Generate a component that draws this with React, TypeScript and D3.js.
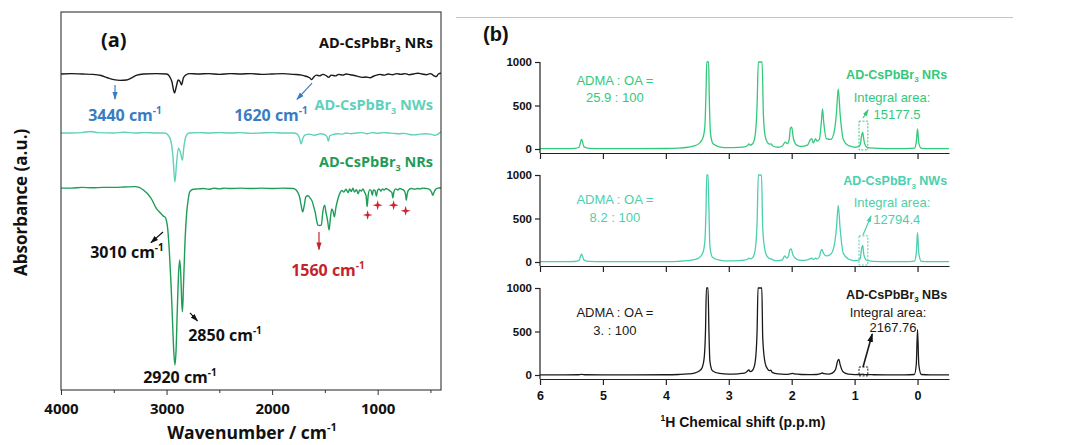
import React, { useEffect, useRef } from 'react'
import * as d3 from 'd3'

type Pt = [number, number]

// ---------- panel (a): FTIR ----------
const irTicksMajor = [4000, 3000, 2000, 1000]
const irTicksMinor = [3500, 2500, 1500, 500]
const irSamples = ['NRs', 'NWs', 'NRs']
const irOffsets = [8.36, 6.8, 5.34]

const irNRsTop: Pt[] = [
  [4000, 0], [3900, 0.01], [3800, 0], [3700, -0.01], [3620, -0.04], [3560, -0.1], [3500, -0.15], [3440, -0.17],
  [3380, -0.16], [3330, -0.1], [3280, -0.03], [3220, 0], [3100, 0.01], [3000, 0], [2975, -0.05], [2950, -0.2],
  [2925, -0.5], [2905, -0.3], [2890, -0.16], [2872, -0.2], [2858, -0.29], [2840, -0.1], [2815, -0.02], [2780, 0.01],
  [2700, 0], [2600, 0.01], [2500, -0.01], [2400, 0.01], [2300, 0], [2200, 0.01], [2100, -0.01], [2000, 0],
  [1900, 0.01], [1800, -0.01], [1720, -0.03], [1680, -0.06], [1645, -0.1], [1625, -0.15], [1605, -0.08],
  [1580, -0.03], [1550, -0.05], [1520, -0.01], [1490, -0.04], [1465, -0.09], [1440, -0.03], [1400, -0.05],
  [1370, -0.01], [1330, -0.03], [1300, 0], [1260, -0.02], [1220, -0.04], [1180, -0.07], [1150, -0.09],
  [1110, -0.08], [1070, -0.1], [1040, -0.06], [1010, -0.03], [980, -0.01], [940, -0.03], [900, 0], [860, -0.02],
  [820, 0.01], [780, -0.01], [740, 0.01], [700, -0.02], [660, 0], [620, 0.02], [580, 0], [540, -0.02],
  [500, 0.01], [470, -0.04], [445, -0.07], [425, 0], [400, 0.02],
]

const irNWs: Pt[] = [
  [4000, 0], [3900, 0], [3800, 0.01], [3720, 0.04], [3650, 0.01], [3500, 0], [3400, 0.02], [3300, 0], [3200, 0.01],
  [3100, 0], [3020, 0], [2990, -0.04], [2960, -0.2], [2940, -0.6], [2921, -1.3], [2905, -0.8], [2888, -0.4],
  [2870, -0.5], [2850, -0.72], [2835, -0.35], [2815, -0.08], [2790, 0], [2700, 0.01], [2600, 0], [2500, 0.01],
  [2400, 0], [2300, 0.01], [2200, -0.01], [2100, 0], [2000, 0.01], [1900, 0], [1800, 0], [1760, -0.03],
  [1740, -0.14], [1725, -0.29], [1710, -0.15], [1690, -0.06], [1650, -0.03], [1600, -0.06], [1570, -0.04],
  [1540, -0.02], [1500, -0.05], [1480, -0.1], [1467, -0.22], [1455, -0.08], [1420, -0.04], [1380, -0.02],
  [1340, -0.03], [1300, 0], [1250, -0.02], [1200, 0], [1150, 0.01], [1100, -0.02], [1050, 0.01], [1000, -0.01],
  [950, 0.01], [900, 0], [850, -0.01], [800, -0.02], [750, -0.01], [700, -0.04], [650, -0.05], [600, -0.03],
  [550, -0.02], [500, -0.03], [460, -0.06], [440, -0.05], [420, -0.01], [400, 0.03],
]

const irNRs: Pt[] = [
  [4000, 0], [3900, 0], [3800, 0.02], [3700, 0.01], [3600, 0.02], [3500, 0.02], [3400, 0.03], [3300, 0.04],
  [3260, 0.02], [3220, -0.05], [3180, -0.15], [3140, -0.3], [3100, -0.52], [3060, -0.65], [3030, -0.74],
  [3016, -0.76], [3005, -0.82], [2990, -1.05], [2975, -1.6], [2960, -2.4], [2945, -3.4], [2932, -4.3],
  [2921, -4.68], [2910, -4.3], [2898, -3.2], [2885, -2.2], [2875, -1.9], [2865, -2.3], [2855, -3.1],
  [2849, -3.27], [2840, -2.6], [2825, -1.4], [2810, -0.68], [2795, -0.3], [2780, -0.1], [2750, -0.03],
  [2700, -0.02], [2650, -0.01], [2600, -0.03], [2550, 0], [2500, -0.02], [2450, 0], [2400, -0.01], [2300, 0],
  [2200, -0.01], [2100, 0], [2000, -0.01], [1900, 0], [1800, -0.01], [1775, -0.04], [1755, -0.12],
  [1740, -0.23], [1725, -0.45], [1710, -0.63], [1695, -0.45], [1680, -0.23], [1660, -0.2], [1640, -0.26],
  [1620, -0.35], [1605, -0.5], [1590, -0.66], [1575, -0.9], [1566, -0.98], [1550, -0.99], [1534, -0.98],
  [1518, -0.6], [1502, -0.45], [1490, -0.64], [1475, -0.85], [1460, -1.11], [1448, -0.8], [1435, -0.55],
  [1422, -0.62], [1410, -0.76], [1395, -0.5], [1385, -0.38], [1370, -0.22], [1355, -0.12], [1340, -0.06],
  [1320, -0.1], [1300, -0.03], [1280, -0.12], [1265, -0.02], [1250, -0.09], [1235, 0], [1220, -0.1],
  [1200, -0.04], [1185, -0.15], [1170, -0.05], [1155, -0.08], [1140, -0.02], [1125, -0.1], [1110, -0.2],
  [1100, -0.49], [1090, -0.2], [1075, -0.04], [1060, -0.08], [1051, -0.19], [1040, -0.05], [1025, -0.06],
  [1013, -0.21], [1000, -0.05], [985, -0.02], [970, -0.08], [955, -0.02], [940, -0.05], [920, -0.01],
  [900, -0.04], [880, -0.08], [865, -0.12], [856, -0.26], [845, -0.08], [830, -0.02], [810, -0.05],
  [790, -0.01], [770, -0.03], [750, -0.06], [735, -0.18], [729, -0.32], [720, -0.15], [705, -0.04],
  [680, -0.01], [650, -0.03], [620, -0.01], [600, -0.02], [570, 0], [540, -0.01], [510, -0.03], [490, -0.1],
  [478, -0.19], [465, -0.1], [450, -0.03], [430, 0], [400, 0.01],
]

// red stars under the green NRs trace (relative to its baseline)
const irStars: Pt[] = [[1095, -0.71], [1000, -0.45], [849, -0.45], [735, -0.6]]

// ---------- panel (b): 1H NMR ----------
const nmrTicks = [6, 5, 4, 3, 2, 1, 0]
const nmrYTicks = [0, 500, 1000]
const nmrSamples = ['NRs', 'NWs', 'NBs']
const nmrRatios = ['25.9 : 100', '8.2 : 100', '3. : 100']
const nmrAreas = ['15177.5', '12794.4', '2167.76']

const nmrNRs: Pt[] = [
  [6.0, 5], [5.6, 5], [5.45, 7], [5.38, 20], [5.34, 110], [5.3, 25], [5.22, 8], [5.0, 5], [4.5, 5], [4.0, 6],
  [3.8, 10], [3.65, 20], [3.55, 35], [3.47, 65], [3.41, 130], [3.38, 260], [3.36, 700], [3.35, 1000],
  [3.32, 1000], [3.31, 600], [3.29, 180], [3.25, 60], [3.15, 25], [3.0, 15], [2.85, 18], [2.75, 25], [2.7, 40],
  [2.68, 60], [2.66, 45], [2.62, 60], [2.58, 160], [2.55, 500], [2.53, 1000], [2.47, 1000], [2.45, 400],
  [2.42, 140], [2.38, 70], [2.35, 55], [2.33, 60], [2.3, 35], [2.22, 20], [2.15, 35], [2.1, 80], [2.07, 60],
  [2.04, 110], [2.02, 240], [2.0, 250], [1.97, 110], [1.92, 45], [1.85, 30], [1.75, 45], [1.7, 110],
  [1.68, 120], [1.66, 70], [1.64, 90], [1.62, 120], [1.6, 90], [1.56, 110], [1.53, 300], [1.51, 460],
  [1.49, 300], [1.45, 120], [1.38, 110], [1.33, 180], [1.29, 400], [1.26, 690], [1.23, 400], [1.18, 110],
  [1.1, 40], [1.05, 30], [1.0, 20], [0.95, 25], [0.91, 50], [0.89, 150], [0.87, 190], [0.86, 140], [0.84, 60],
  [0.8, 20], [0.7, 10], [0.5, 5], [0.2, 5], [0.05, 10], [0.02, 80], [0.0, 230], [-0.02, 70], [-0.06, 8],
  [-0.2, 5], [-0.5, 5],
]

const nmrNWs: Pt[] = [
  [6.0, 4], [5.6, 4], [5.45, 6], [5.38, 18], [5.34, 90], [5.3, 22], [5.22, 7], [5.0, 4], [4.5, 4], [4.0, 5],
  [3.8, 8], [3.65, 15], [3.55, 28], [3.47, 50], [3.41, 110], [3.38, 240], [3.36, 650], [3.35, 1000],
  [3.33, 1000], [3.315, 600], [3.3, 180], [3.26, 55], [3.15, 22], [3.0, 12], [2.85, 15], [2.75, 22], [2.7, 32],
  [2.68, 45], [2.66, 35], [2.62, 50], [2.58, 140], [2.55, 450], [2.53, 1000], [2.48, 1000], [2.46, 380],
  [2.42, 120], [2.38, 55], [2.35, 38], [2.33, 35], [2.3, 25], [2.22, 15], [2.15, 25], [2.11, 70], [2.08, 45],
  [2.05, 70], [2.03, 140], [2.01, 150], [1.98, 80], [1.92, 30], [1.85, 18], [1.75, 25], [1.7, 40], [1.68, 45],
  [1.66, 30], [1.64, 35], [1.62, 45], [1.6, 35], [1.56, 60], [1.54, 120], [1.52, 145], [1.5, 110], [1.45, 70],
  [1.38, 90], [1.33, 170], [1.29, 380], [1.26, 650], [1.23, 380], [1.18, 100], [1.1, 35], [1.05, 22],
  [1.0, 15], [0.95, 18], [0.91, 40], [0.89, 150], [0.87, 190], [0.86, 120], [0.84, 50], [0.8, 15], [0.7, 8],
  [0.5, 4], [0.2, 4], [0.05, 10], [0.02, 100], [0.0, 340], [-0.02, 100], [-0.06, 8], [-0.2, 4], [-0.5, 4],
]

const nmrNBs: Pt[] = [
  [6.0, 2], [5.6, 2], [5.4, 3], [5.34, 8], [5.28, 3], [5.0, 2], [4.5, 2], [4.0, 3], [3.8, 6], [3.65, 12],
  [3.55, 22], [3.47, 45], [3.42, 90], [3.39, 200], [3.37, 500], [3.355, 1000], [3.33, 1000], [3.315, 500],
  [3.3, 160], [3.26, 50], [3.15, 18], [3.0, 10], [2.85, 14], [2.75, 22], [2.71, 40], [2.68, 60], [2.66, 38],
  [2.62, 55], [2.58, 150], [2.55, 500], [2.535, 1000], [2.475, 1000], [2.46, 420], [2.42, 130], [2.38, 65],
  [2.35, 50], [2.33, 55], [2.31, 30], [2.22, 12], [2.1, 8], [2.02, 14], [1.99, 18], [1.96, 12], [1.85, 6],
  [1.7, 5], [1.6, 6], [1.53, 18], [1.51, 25], [1.49, 15], [1.42, 10], [1.35, 25], [1.3, 70], [1.27, 160],
  [1.25, 180], [1.23, 120], [1.18, 35], [1.1, 10], [1.0, 5], [0.9, 6], [0.87, 10], [0.84, 5], [0.7, 3],
  [0.5, 2], [0.2, 2], [0.05, 6], [0.02, 120], [0.0, 520], [-0.02, 120], [-0.06, 6], [-0.2, 2], [-0.5, 2],
]

const fontA = '"Open Sans", "DejaVu Sans", sans-serif'
const fontB = '"Liberation Sans", Arial, sans-serif'

const App = () => {
  const ref = useRef<SVGSVGElement>(null)

  useEffect(() => {
    const svg = d3.select(ref.current)
    svg.selectAll('*').remove()

    const defs = svg.append('defs')
    const arrow = (id: string, color: string, s: number) => {
      defs.append('marker')
        .attr('id', id)
        .attr('markerUnits', 'userSpaceOnUse')
        .attr('markerWidth', s * 2).attr('markerHeight', s * 2)
        .attr('viewBox', `0 0 ${s * 2} ${s * 2}`)
        .attr('refX', s * 2 - 1).attr('refY', s)
        .attr('orient', 'auto')
        .append('path')
        .attr('d', `M0,${s * 0.35} L${s * 2},${s} L0,${s * 1.65} Z`)
        .attr('fill', color)
    }
    arrow('ar-blue', '#3a7cc2', 4)
    arrow('ar-black', '#111', 4)
    arrow('ar-red', '#c3242b', 4)
    arrow('ar-green', '#2fc777', 3.5)
    arrow('ar-teal', '#4ccfae', 3.5)
    arrow('ar-black2', '#111', 4.5)

    // ================= panel (a) =================
    const a = { left: 61, right: 441, top: 12, bottom: 390 }
    const x = d3.scaleLinear().domain([4000, 400]).range([a.left, a.right])
    const y = d3.scaleLinear().domain([0, 10]).range([a.bottom, a.top])
    const ga = svg.append('g')

    const irColors = ['#1a1a1a', '#5fd1b9', '#1f9c57']
    const irLabelColors = ['#111', '#5fd1b9', '#1f9c57']
    const irSeries = [irNRsTop, irNWs, irNRs]

    irSeries.forEach((s, i) => {
      ga.append('path')
        .datum(s)
        .attr('fill', 'none')
        .attr('stroke', irColors[i])
        .attr('stroke-width', 1.4)
        .attr('stroke-linejoin', 'round')
        .attr('d', d3.line<Pt>()
          .x(d => x(d[0]))
          .y(d => y(d[1] + irOffsets[i]))
          .curve(d3.curveMonotoneX))
    })

    // frame
    ga.append('rect')
      .attr('x', a.left).attr('y', a.top)
      .attr('width', a.right - a.left).attr('height', a.bottom - a.top)
      .attr('fill', 'none').attr('stroke', '#333').attr('stroke-width', 1.1)

    const axA = ga.append('g')
      .attr('transform', `translate(0,${a.bottom})`)
      .call(d3.axisBottom(x).tickValues(irTicksMajor).tickSize(5).tickSizeOuter(0).tickFormat(d3.format('d')))
    axA.select('.domain').remove()
    axA.selectAll('text')
      .attr('font-family', fontA).attr('font-weight', 700).attr('font-size', 15).attr('fill', '#111')
      .attr('dy', '1.05em')
    axA.selectAll('line').attr('stroke', '#333')
    ga.append('g')
      .attr('transform', `translate(0,${a.bottom})`)
      .call(d3.axisBottom(x).tickValues([4000, ...irTicksMinor]).tickSize(3).tickFormat(() => ''))
      .call(g => g.select('.domain').remove())
      .selectAll('line').attr('stroke', '#333')

    ga.append('text')
      .attr('x', (a.left + a.right) / 2 + 1).attr('y', 439)
      .attr('text-anchor', 'middle')
      .attr('font-family', fontA).attr('font-weight', 700).attr('font-size', 17.5).attr('fill', '#111')
      .call(t => {
        t.append('tspan').text('Wavenumber / cm')
        t.append('tspan').attr('dy', -8).attr('font-size', 11).text('-1')
      })

    ga.append('text')
      .attr('transform', 'translate(27,276) rotate(-90)')
      .attr('font-family', fontA).attr('font-weight', 700).attr('font-size', 17).attr('fill', '#111')
      .text('Absorbance (a.u.)')

    ga.append('text')
      .attr('x', 101).attr('y', 47)
      .attr('font-family', fontA).attr('font-weight', 700).attr('font-size', 20).attr('fill', '#111')
      .text('(a)')

    // sample names
    const irLabelY = [9.05, 7.41, 5.9]
    irSamples.forEach((s, i) => {
      const t = ga.append('text')
        .attr('x', a.right - 8).attr('y', y(irLabelY[i]))
        .attr('text-anchor', 'end')
        .attr('font-family', fontA).attr('font-weight', 700).attr('font-size', 14.5)
        .attr('fill', irLabelColors[i])
      t.append('tspan').text('AD-CsPbBr')
      t.append('tspan').attr('dy', 4).attr('font-size', 9).text('3')
      t.append('tspan').attr('dy', -4).text(' ' + s)
    })

    // peak annotations
    const cmLabel = (wn: number, v: number, num: string, color: string) => {
      const t = ga.append('text')
        .attr('x', x(wn)).attr('y', y(v))
        .attr('text-anchor', 'middle')
        .attr('font-family', fontA).attr('font-weight', 700).attr('font-size', 16).attr('fill', color)
      t.append('tspan').text(num + ' cm')
      t.append('tspan').attr('dy', -7).attr('font-size', 10).text('-1')
    }
    const arrowLine = (w1: number, v1: number, w2: number, v2: number, color: string, id: string) => {
      ga.append('line')
        .attr('x1', x(w1)).attr('y1', y(v1)).attr('x2', x(w2)).attr('y2', y(v2))
        .attr('stroke', color).attr('stroke-width', 1.2)
        .attr('marker-end', `url(#${id})`)
    }
    cmLabel(3394, 7.12, '3440', '#3a7cc2')
    arrowLine(3488, 8.07, 3488, 7.7, '#3a7cc2', 'ar-blue')
    cmLabel(2011, 7.12, '1620', '#3a7cc2')
    arrowLine(1622, 8.12, 1764, 7.69, '#3a7cc2', 'ar-blue')
    cmLabel(3375, 3.49, '3010', '#111')
    arrowLine(3034, 4.18, 3147, 3.9, '#111', 'ar-black')
    cmLabel(2446, 1.3, '2850', '#111')
    arrowLine(2778, 2.04, 2708, 1.83, '#111', 'ar-black')
    cmLabel(2873, 0.19, '2920', '#111')
    cmLabel(1471, 3.02, '1560', '#c3242b')
    arrowLine(1556, 4.18, 1556, 3.72, '#c3242b', 'ar-red')

    ga.selectAll('path.star')
      .data(irStars)
      .join('path')
      .attr('class', 'star')
      .attr('transform', d => `translate(${x(d[0])},${y(d[1] + irOffsets[2])})`)
      .attr('d', 'M0,-5 L1.1,-1.1 L5,0 L1.1,1.1 L0,5 L-1.1,1.1 L-5,0 L-1.1,-1.1 Z')
      .attr('fill', '#d3232b')

    // ================= panel (b) =================
    svg.append('line')
      .attr('x1', 456).attr('x2', 1013).attr('y1', 17.5).attr('y2', 17.5)
      .attr('stroke', '#c4c4c4').attr('stroke-width', 1)

    const gb = svg.append('g')
    const xb = d3.scaleLinear().domain([6, -0.5]).range([540, 949])
    const zeroY = [149, 262, 375]
    const axisY = [153, 266, 379]
    const nmrSeries = [nmrNRs, nmrNWs, nmrNBs]
    const nmrColors = ['#33c97b', '#4ccfae', '#1a1a1a']
    const arrowIds = ['ar-green', 'ar-teal', 'ar-black2']
    const ratioLines = [[736, 540], [667, 460], [667, 460]]
    const nameY = [805, 885, 874]
    const areaY = [[540, 345], [632, 437], [667, 494]]
    const areaX = [[0.406, 0.326], [0.406, 0.33], [0.47, 0.39]]
    const boxes = [[320, -10], [300, -35], [92, -10]]
    const arrows = [[0.866, 356, 0.787, 448], [0.866, 310, 0.74, 529], [0.866, 92, 0.72, 471]]

    nmrSeries.forEach((s, i) => {
      const yb = d3.scaleLinear().domain([0, 1000]).range([zeroY[i], zeroY[i] - 87])
      const g = gb.append('g')
      const col = nmrColors[i]

      g.append('path')
        .datum(s)
        .attr('fill', 'none')
        .attr('stroke', col)
        .attr('stroke-width', 1.3)
        .attr('d', d3.line<Pt>()
          .x(d => xb(d[0]))
          .y(d => yb(Math.min(d[1], 1000)))
          .curve(d3.curveMonotoneX))

      const xa = g.append('g')
        .attr('transform', `translate(0,${axisY[i]})`)
        .call(d3.axisBottom(xb).tickValues(nmrTicks).tickSize(6).tickSizeOuter(0)
          .tickFormat(i === 2 ? d3.format('d') : () => ''))
      xa.select('.domain').attr('stroke', '#222').attr('stroke-width', 1.2)
      xa.selectAll('line').attr('stroke', '#222').attr('stroke-width', 1.2)
      xa.selectAll('text')
        .attr('font-family', fontB).attr('font-weight', 700).attr('font-size', 12.5).attr('fill', '#111')
        .attr('dy', '0.95em')

      const ya = g.append('g')
        .attr('transform', 'translate(540,0)')
        .call(d3.axisLeft(yb).tickValues(nmrYTicks).tickSize(5).tickSizeOuter(0).tickFormat(d3.format('d')))
      ya.select('.domain').remove()
      ya.selectAll('line').attr('stroke', '#222').attr('stroke-width', 1.2)
      ya.selectAll('text')
        .attr('font-family', fontB).attr('font-weight', 700).attr('font-size', 11.5).attr('fill', '#111')
        .attr('x', -8)
      g.append('line')
        .attr('x1', 540).attr('x2', 540).attr('y1', yb(1000)).attr('y2', axisY[i])
        .attr('stroke', '#222').attr('stroke-width', 1.2)

      // ratio text
      g.append('text')
        .attr('x', xb(4.81)).attr('y', yb(ratioLines[i][0]))
        .attr('text-anchor', 'middle')
        .attr('font-family', fontB).attr('font-size', 13).attr('fill', col)
        .text('ADMA : OA =')
      g.append('text')
        .attr('x', xb(4.81)).attr('y', yb(ratioLines[i][1]))
        .attr('text-anchor', 'middle')
        .attr('font-family', fontB).attr('font-size', 13).attr('fill', col)
        .text(nmrRatios[i])

      // sample name
      const t = g.append('text')
        .attr('x', xb(-0.47)).attr('y', yb(nameY[i]))
        .attr('text-anchor', 'end')
        .attr('font-family', fontB).attr('font-weight', 700).attr('font-size', 12.5).attr('fill', col)
      t.append('tspan').text('AD-CsPbBr')
      t.append('tspan').attr('dy', 3.5).attr('font-size', 8).text('3')
      t.append('tspan').attr('dy', -3.5).text(' ' + nmrSamples[i])

      g.append('text')
        .attr('x', xb(areaX[i][0])).attr('y', yb(areaY[i][0]))
        .attr('text-anchor', 'middle')
        .attr('font-family', fontB).attr('font-size', 13).attr('fill', col)
        .text('Integral area:')
      g.append('text')
        .attr('x', xb(areaX[i][1])).attr('y', yb(areaY[i][1]))
        .attr('text-anchor', 'middle')
        .attr('font-family', fontB).attr('font-size', 13).attr('fill', col)
        .text(nmrAreas[i])

      // dashed integration box
      g.append('rect')
        .attr('x', xb(0.93)).attr('y', yb(boxes[i][0]))
        .attr('width', xb(0.79) - xb(0.93)).attr('height', yb(boxes[i][1]) - yb(boxes[i][0]))
        .attr('fill', 'none').attr('stroke', col).attr('stroke-width', 1)
        .attr('stroke-dasharray', '2,1.5')

      const ar = arrows[i]
      g.append('line')
        .attr('x1', xb(ar[0])).attr('y1', yb(ar[1])).attr('x2', xb(ar[2])).attr('y2', yb(ar[3]))
        .attr('stroke', col).attr('stroke-width', i === 2 ? 1.6 : 1.2)
        .attr('marker-end', `url(#${arrowIds[i]})`)
    })

    gb.append('text')
      .attr('x', 483).attr('y', 41)
      .attr('font-family', fontB).attr('font-weight', 700).attr('font-size', 20).attr('fill', '#111')
      .text('(b)')

    gb.append('text')
      .attr('x', 743).attr('y', 427)
      .attr('text-anchor', 'middle')
      .attr('font-family', fontB).attr('font-weight', 700).attr('font-size', 14).attr('fill', '#111')
      .call(t => {
        t.append('tspan').attr('dy', -6).attr('font-size', 8.5).text('1')
        t.append('tspan').attr('dy', 6).text('H Chemical shift (p.p.m)')
      })
  }, [])

  return (
    <svg
      ref={ref}
      width={1069}
      height={445}
      style={{ position: 'absolute', left: 0, top: 0, background: '#fff' }}
    />
  )
}

export default App
